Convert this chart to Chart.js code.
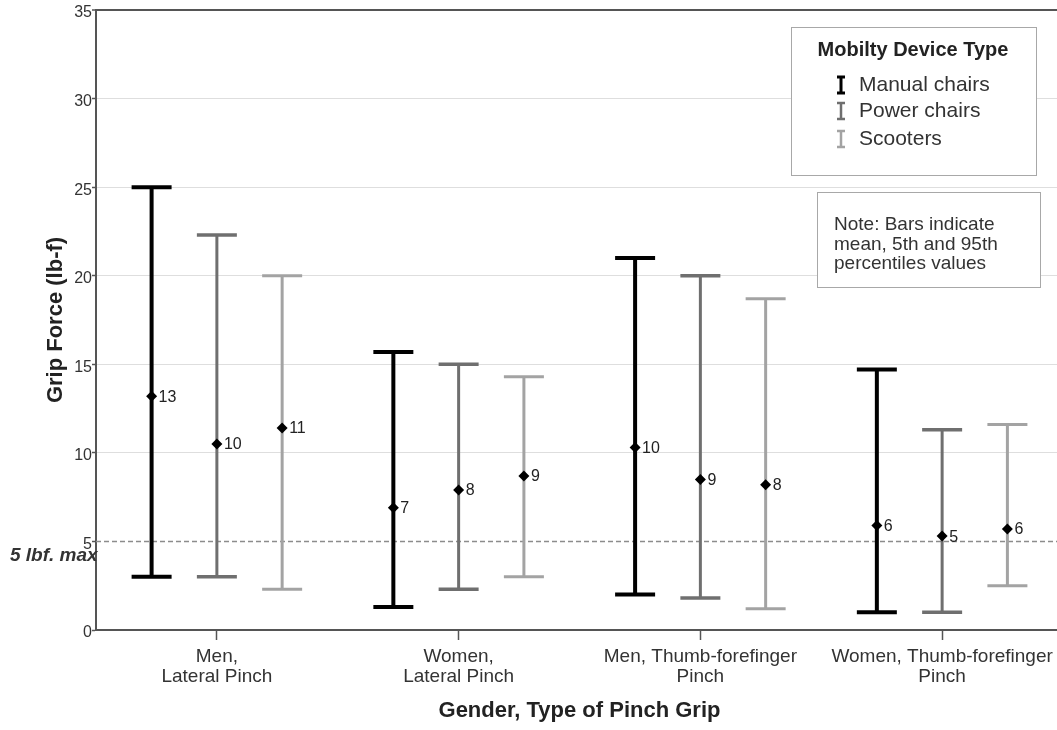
<!DOCTYPE html>
<html>
<head>
<meta charset="utf-8">
<script src="https://cdn.jsdelivr.net/npm/chart.js@4.4.1/dist/chart.umd.min.js"></script>
<style>
  html, body { margin: 0; padding: 0; background: #fff; overflow: hidden; }
  #wrap { width: 1057px; height: 730px; overflow: hidden; }
</style>
</head>
<body>
<div id="wrap"><canvas id="gripChart" width="1063" height="730"></canvas></div>
<script>
// categories and readings (lb-f)
const categories = [
  ['Men,', 'Lateral Pinch'],
  ['Women,', 'Lateral Pinch'],
  ['Men, Thumb-forefinger', 'Pinch'],
  ['Women, Thumb-forefinger', 'Pinch'],
];
const yTicks = [0, 5, 10, 15, 20, 25, 30, 35];

const manualLow = [3.0, 1.3, 2.0, 1.0];
const manualHigh = [25.0, 15.7, 21.0, 14.7];
const manualMean = [13.2, 6.9, 10.3, 5.9];
const manualLabels = ['13', '7', '10', '6'];

const powerLow = [3.0, 2.3, 1.8, 1.0];
const powerHigh = [22.3, 15.0, 20.0, 11.3];
const powerMean = [10.5, 7.9, 8.5, 5.3];
const powerLabels = ['10', '8', '9', '5'];

const scooterLow = [2.3, 3.0, 1.2, 2.5];
const scooterHigh = [20.0, 14.3, 18.7, 11.6];
const scooterMean = [11.4, 8.7, 8.2, 5.7];
const scooterLabels = ['11', '9', '8', '6'];

const refLine = 5;
const FONT = "'Liberation Sans', Arial, sans-serif";

function rangeData(lo, hi) {
  return lo.map((v, i) => [v, hi[i]]);
}

// draws caps, mean diamonds, labels, reference line, legend and note
const errorBarPlugin = {
  id: 'errorBars',
  beforeDatasetsDraw(chart) {
    const { ctx, chartArea, scales } = chart;
    const y = scales.y.getPixelForValue(refLine);
    ctx.save();
    ctx.strokeStyle = '#8c8c8c';
    ctx.lineWidth = 1.5;
    ctx.setLineDash([5, 3]);
    ctx.beginPath();
    ctx.moveTo(chartArea.left, y);
    ctx.lineTo(chartArea.right, y);
    ctx.stroke();
    ctx.restore();
  },
  afterDatasetsDraw(chart) {
    const { ctx, scales } = chart;
    ctx.save();
    chart.data.datasets.forEach((ds, d) => {
      const meta = chart.getDatasetMeta(d);
      meta.data.forEach((bar, i) => {
        const [lo, hi] = ds.data[i];
        const x = bar.x;
        ctx.strokeStyle = ds.backgroundColor;
        ctx.lineWidth = ds.capThickness;
        ctx.setLineDash([]);
        [lo, hi].forEach(v => {
          const yy = scales.y.getPixelForValue(v);
          ctx.beginPath();
          ctx.moveTo(x - 20, yy);
          ctx.lineTo(x + 20, yy);
          ctx.stroke();
        });
        const ym = scales.y.getPixelForValue(ds.means[i]);
        const r = 5.5;
        ctx.fillStyle = '#000';
        ctx.beginPath();
        ctx.moveTo(x, ym - r);
        ctx.lineTo(x + r, ym);
        ctx.lineTo(x, ym + r);
        ctx.lineTo(x - r, ym);
        ctx.closePath();
        ctx.fill();
        ctx.fillStyle = '#222';
        ctx.font = '16px ' + FONT;
        ctx.textAlign = 'left';
        ctx.textBaseline = 'middle';
        ctx.fillText(ds.meanLabels[i], x + 7, ym + 1);
      });
    });
    ctx.restore();
  },
  afterDraw(chart) {
    const { ctx, scales } = chart;
    ctx.save();
    // reference line caption
    ctx.fillStyle = '#333';
    ctx.font = 'italic bold 19px ' + FONT;
    ctx.textAlign = 'left';
    ctx.textBaseline = 'middle';
    ctx.fillText('5 lbf. max', 10, scales.y.getPixelForValue(refLine) + 14);

    // legend box
    ctx.fillStyle = '#fff';
    ctx.fillRect(791, 27, 245, 148);
    ctx.strokeStyle = '#a8a8a8';
    ctx.lineWidth = 1;
    ctx.strokeRect(791.5, 27.5, 245, 148);
    ctx.fillStyle = '#222';
    ctx.font = 'bold 20px ' + FONT;
    ctx.textAlign = 'center';
    ctx.fillText('Mobilty Device Type', 913, 50);
    ctx.font = '21px ' + FONT;
    ctx.textAlign = 'left';
    const rows = [85, 111, 139];
    chart.data.datasets.forEach((ds, d) => {
      const yy = rows[d];
      const cx = 841;
      ctx.strokeStyle = ds.backgroundColor;
      ctx.lineWidth = d === 0 ? 3 : 2.5;
      ctx.beginPath();
      ctx.moveTo(cx, yy - 8); ctx.lineTo(cx, yy + 8);
      ctx.moveTo(cx - 4, yy - 8); ctx.lineTo(cx + 4, yy - 8);
      ctx.moveTo(cx - 4, yy + 8); ctx.lineTo(cx + 4, yy + 8);
      ctx.stroke();
      ctx.fillStyle = '#333';
      ctx.fillText(ds.label, 859, yy);
    });

    // note box
    ctx.fillStyle = '#fff';
    ctx.fillRect(817, 192, 223, 95);
    ctx.strokeStyle = '#a8a8a8';
    ctx.lineWidth = 1;
    ctx.strokeRect(817.5, 192.5, 223, 95);
    ctx.fillStyle = '#333';
    ctx.font = '19px ' + FONT;
    ['Note: Bars indicate', 'mean, 5th and 95th', 'percentiles values']
      .forEach((t, k) => ctx.fillText(t, 834, 225 + k * 19.5));
    ctx.restore();
  },
};

const gripChart = new Chart(document.getElementById('gripChart'), {
  type: 'bar',
  data: {
    labels: categories,
    datasets: [
      {
        label: 'Manual chairs',
        data: rangeData(manualLow, manualHigh),
        means: manualMean,
        meanLabels: manualLabels,
        backgroundColor: '#000000',
        maxBarThickness: 4,
        capThickness: 4,
      },
      {
        label: 'Power chairs',
        data: rangeData(powerLow, powerHigh),
        means: powerMean,
        meanLabels: powerLabels,
        backgroundColor: '#6f6f6f',
        maxBarThickness: 3,
        capThickness: 3.5,
      },
      {
        label: 'Scooters',
        data: rangeData(scooterLow, scooterHigh),
        means: scooterMean,
        meanLabels: scooterLabels,
        backgroundColor: '#a3a3a3',
        maxBarThickness: 3,
        capThickness: 3,
      },
    ],
  },
  options: {
    responsive: false,
    animation: false,
    categoryPercentage: 0.81,
    barPercentage: 1,
    layout: { padding: { top: 10, right: 0, left: 0, bottom: 0 } },
    plugins: {
      legend: { display: false },
      tooltip: { enabled: false },
    },
    scales: {
      x: {
        offset: true,
        afterFit: (s) => { s.height = 100; },
        border: { color: '#555', width: 2 },
        grid: {
          offset: false,
          drawOnChartArea: false,
          tickLength: 10,
          tickColor: '#555',
          tickWidth: 1.5,
        },
        ticks: {
          padding: 7,
          color: '#333',
          maxRotation: 0,
          autoSkip: false,
          font: { family: FONT, size: 19, lineHeight: 1.05 },
        },
        title: {
          display: true,
          text: 'Gender, Type of Pinch Grip',
          color: '#222',
          font: { family: FONT, size: 22, weight: 'bold', lineHeight: 1.2 },
          padding: { top: 0, bottom: 6 },
        },
      },
      y: {
        min: 0,
        max: 35,
        afterFit: (s) => { s.width = 96; },
        afterBuildTicks: (s) => { s.ticks = yTicks.map(v => ({ value: v })); },
        border: { color: '#555', width: 2 },
        grid: {
          color: (c) => {
            const v = c.tick && c.tick.value;
            if (v === 35) return '#555';
            if (v === 0 || v === refLine) return 'rgba(0,0,0,0)';
            return '#dedede';
          },
          lineWidth: (c) => (c.tick && c.tick.value === 35 ? 2 : 1),
          tickColor: '#555',
          tickWidth: 1.5,
          tickLength: 4,
        },
        ticks: {
          padding: 0,
          labelOffset: 3,
          color: '#333',
          font: { family: FONT, size: 16 },
        },
        title: {
          display: true,
          text: 'Grip Force (lb-f)',
          color: '#222',
          font: { family: FONT, size: 22, weight: 'bold', lineHeight: 1.2 },
          padding: { top: 43, bottom: 0 },
        },
      },
    },
  },
  plugins: [errorBarPlugin],
});
</script>
</body>
</html>
